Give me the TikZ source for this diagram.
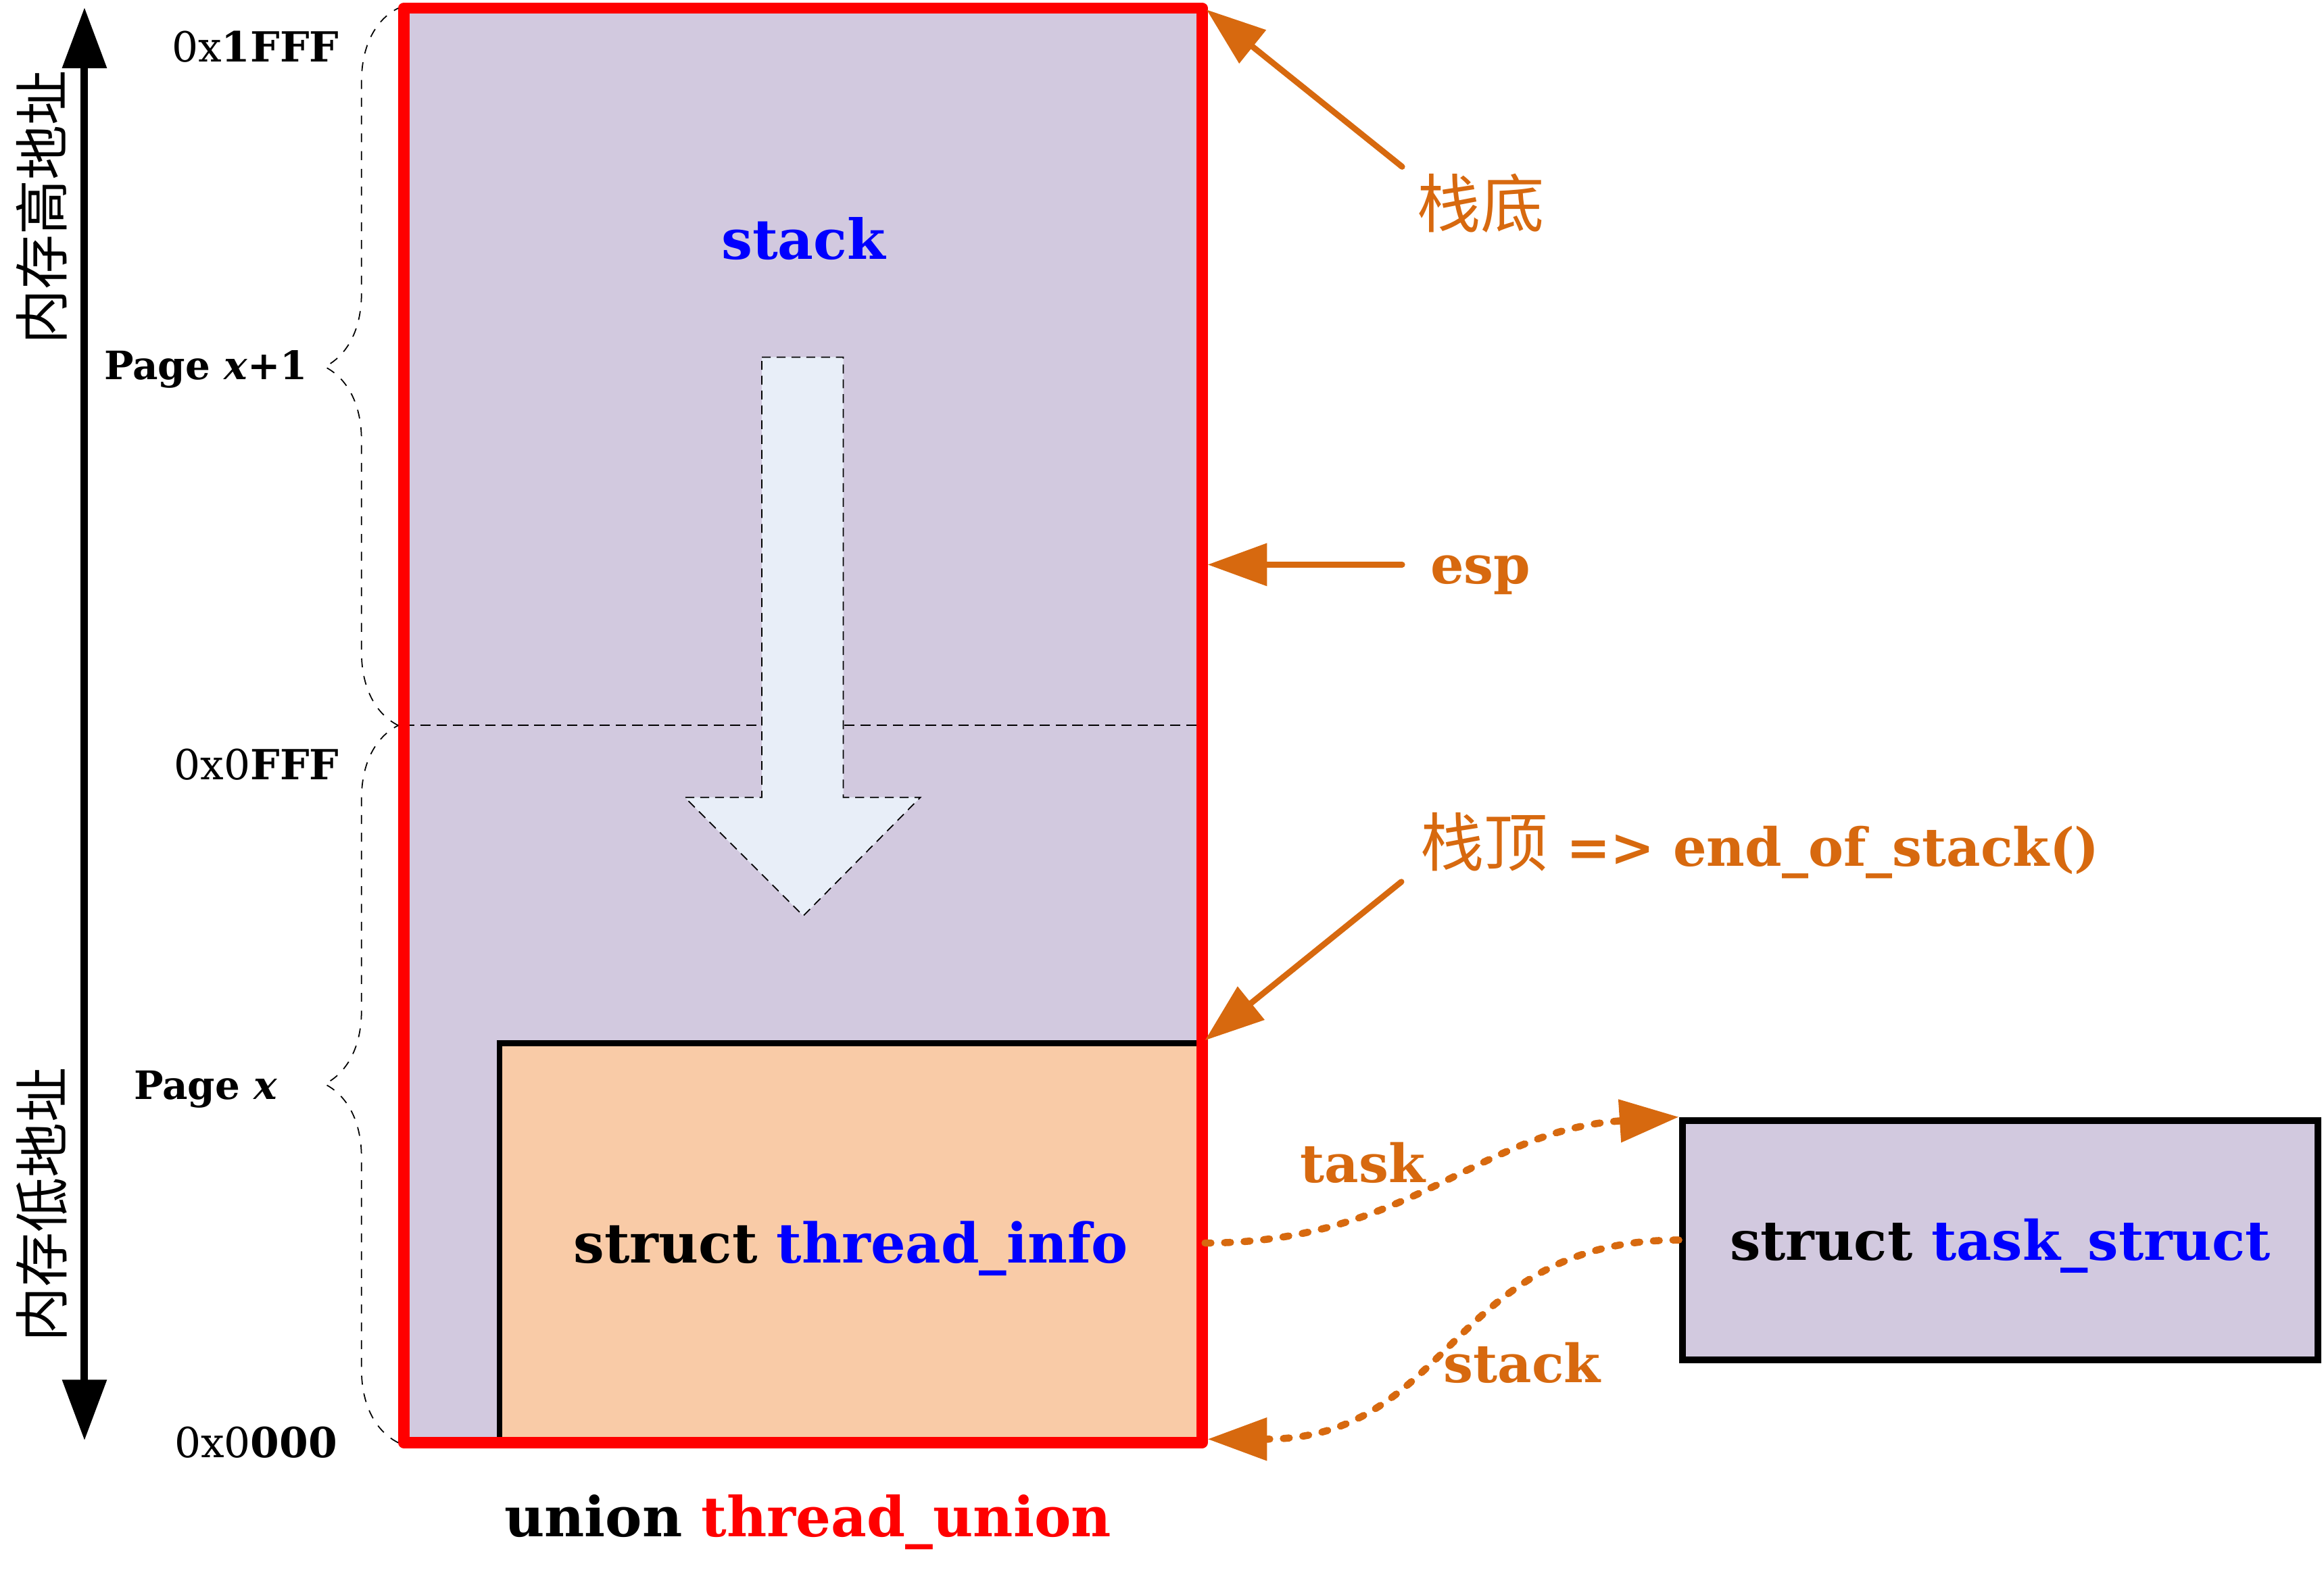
\documentclass[tikz,border=0pt]{standalone}
\usepackage{fontspec}
\setmainfont{DejaVu Serif}
\newfontfamily\cjk{Noto Sans CJK SC}
\usetikzlibrary{arrows.meta,decorations.pathreplacing}

\definecolor{memlav}{RGB}{210,201,223}
\definecolor{infopeach}{RGB}{249,203,167}
\definecolor{growblue}{RGB}{232,238,248}
\definecolor{noteorange}{RGB}{215,105,15}

\begin{document}
\begin{tikzpicture}[x=0.5pt, y=-0.5pt,
    memfill/.style={fill=memlav, outer sep=0pt, inner sep=0pt},
    memedge/.style={draw=red, line width=3.8pt, line join=round},
    infobox/.style={draw=black, fill=infopeach, line width=2pt, text height=18pt, font=\bfseries\fontsize{18.5}{20}\selectfont},
    tsbox/.style={draw=black, fill=memlav, line width=2.3pt, text height=18pt, font=\bfseries\fontsize{18.4}{20}\selectfont},
    pointer/.style={draw=noteorange, line width=2pt, line cap=round, -{Triangle[length=20pt,width=14pt]}},
    linkptr/.style={pointer, line width=2.4pt, dash pattern=on 2pt off 4.6pt},
    pagebrace/.style={decorate, decoration={brace, amplitude=24.8pt}, dashed, thin},
    addr/.style={anchor=base east, inner sep=0pt, font=\fontsize{14}{16}\selectfont},
    pagelbl/.style={anchor=base west, inner sep=0pt, font=\bfseries\fontsize{13.2}{16}\selectfont},
    sidecjk/.style={rotate=90, inner sep=0pt, font=\cjk\fontsize{18.5}{20}\selectfont},
    note/.style={text=noteorange, inner sep=0pt, font=\bfseries\fontsize{17.8}{20}\selectfont},
    notecjk/.style={text=noteorange, inner sep=0pt, font=\cjk\fontsize{21.5}{24}\selectfont}]
    \useasboundingbox (0,0) rectangle (1568,1071.8);
    % thread_union block and its parts
    \node[memfill, minimum width=269.25pt, minimum height=484pt] (union) at (541.75,489.5) {};
    \draw[dash pattern=on 3.5pt off 2pt, thin] (union.west) -- (union.east);
    \draw[dash pattern=on 3pt off 2pt, thin, fill=growblue] (514,241) -- (569,241) -- (569,538) -- (621,538) -- (542,618) -- (462,538) -- (514,538) -- cycle;
    \node[inner sep=0pt, text=blue, font=\bfseries\fontsize{18.6}{20}\selectfont] (stacktxt) at (542,161) {stack};
    \node[infobox, minimum width=237pt, minimum height=134.75pt] (info) at (574,838.75) {struct \textcolor{blue}{thread\_info}};
    \draw[memedge] (union.north west) rectangle (union.south east);
    \node[anchor=base, inner sep=0pt, font=\bfseries\fontsize{18.6}{20}\selectfont] (uniontxt) at (545,1037) {union \textcolor{red}{thread\_union}};
    \node[tsbox, minimum width=214.5pt, minimum height=80.75pt] (ts) at (1349.5,836.75) {struct \textcolor{blue}{task\_struct}};
    % address axis
    \coordinate (axtop) at (57,5);
    \coordinate (axbot) at (57,972);
    \draw[line width=2.5pt, {Triangle[length=20.5pt,width=14.5pt]}-{Triangle[length=20.5pt,width=14.5pt]}] (axbot) -- (axtop);
    \node[sidecjk] (hiaddr) at (28,140) {内存高地址};
    \node[sidecjk] (loaddr) at (28,813) {内存低地址};
    % pages
    \draw[pagebrace] ([xshift=-1.9pt]union.west) -- ([xshift=-1.9pt]union.north west);
    \draw[pagebrace] ([xshift=-1.9pt]union.south west) -- ([xshift=-1.9pt]union.west);
    \node[addr] (a1fff) at (229,41.6) {0x\textbf{1FFF}};
    \node[addr] (a0fff) at (229,526) {0x0\textbf{FFF}};
    \node[addr] (a0000) at (228,983.6) {0x0\textbf{000}};
    \node[pagelbl] (pgup) at (70,256) {Page \textit{x}+1};
    \node[pagelbl] (pglow) at (90,741.6) {Page \textit{x}};
    % stack pointers
    \node[notecjk] (bottxt) at (999,137) {栈底};
    \node[note, anchor=base] (esptxt) at (999,394) {esp};
    \node[note, anchor=base west] (toptxt) at (958,584.6) {{\cjk\fontsize{21.5}{24}\selectfont\mdseries 栈顶} => end\_of\_stack()};
    \coordinate (botfrom) at (946,112.5);
    \coordinate (espfrom) at (946,381);
    \coordinate (topfrom) at (945.5,595);
    \coordinate (espto) at (union.east |- espfrom);
    \draw[pointer] (botfrom) -- ([xshift=1.5pt,yshift=-0.5pt]union.north east);
    \draw[pointer] (espfrom) -- ([xshift=1.9pt]espto);
    \draw[pointer] (topfrom) -- (info.north east);
    % task / stack links
    \draw[linkptr] (info.east) .. controls +(137,0) and +(-135,9) .. (ts.north west);
    \draw[linkptr] (ts.west) .. controls +(-155,0) and +(165,0) .. ([xshift=1.9pt,yshift=1.2pt]union.south east);
    \node[note, anchor=base] (tasktxt) at (919.5,798) {task};
    \node[note, anchor=base] (stacklink) at (1027,933) {stack};
\end{tikzpicture}
\end{document}
